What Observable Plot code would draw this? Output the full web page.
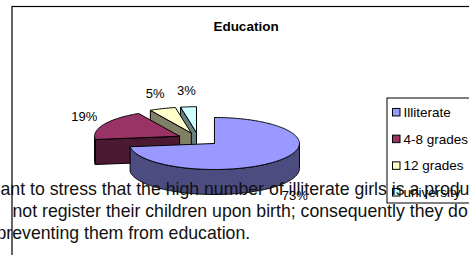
<!DOCTYPE html>
<html><head><meta charset="utf-8">
<script src="https://cdn.jsdelivr.net/npm/d3@7"></script>
<script src="https://cdn.jsdelivr.net/npm/@observablehq/plot@0.6"></script>
<style>
body{margin:0;background:#fff;}
#wrap{position:relative;width:469px;height:255px;overflow:hidden;background:#fff;}
#wrap svg{display:block;}
</style></head><body><div id="wrap"></div>
<script>
// ---- data ----
const title = "Education";
const categories = ["Illiterate", "4-8 grades", "12 grades", "university"];
const values = [73, 19, 5, 3];
const percentLabels = ["73%", "19%", "5%", "3%"];
const topColors = ["#9999FF", "#993366", "#FFFFCC", "#CCFFFF"];
const sideColors = ["#4C4C80", "#4C1933", "#808066", "#668080"];
const docLines = [
  "ant to stress that the high number of illiterate girls is a product",
  "not register their children upon birth; consequently they do",
  "preventing them from education."
];

// ---- layout ----
const W = 469, H = 255;
const G = {cx: 198, cy: 138.7, rx: 85, ry: 26, depth: 25, explode: 0.25, labelDx: 22, labelDy: 16};
const FONT = "Arial, 'Liberation Sans', sans-serif";

const arcs = d3.pie().sort(null).value(d => d)(values);
const slices = arcs.map((a, i) => {
  const mid = (a.startAngle + a.endAngle) / 2;
  const c = [G.cx + G.explode * Math.sin(mid) * G.rx, G.cy - G.explode * Math.cos(mid) * G.ry];
  const pt = (ang, h) => [c[0] + G.rx * Math.sin(ang), c[1] - G.ry * Math.cos(ang) + h];
  const arcPts = (a0, a1, h) => {
    const n = Math.max(2, Math.ceil(Math.abs(a1 - a0) / (Math.PI / 180)));
    return d3.range(n + 1).map(k => pt(a0 + (a1 - a0) * k / n, h));
  };
  const top = [c, ...arcPts(a.startAngle, a.endAngle, 0), c];
  const sides = [];
  // radial face at start angle
  if (Math.sin(a.startAngle) < -1e-6) {
    const p = pt(a.startAngle, 0), q = pt(a.startAngle, G.depth);
    sides.push([c, p, q, [c[0], c[1] + G.depth], c]);
  }
  // radial face at end angle
  if (Math.sin(a.endAngle) > 1e-6) {
    const p = pt(a.endAngle, 0), q = pt(a.endAngle, G.depth);
    sides.push([c, p, q, [c[0], c[1] + G.depth], c]);
  }
  // outer curved face (front half only)
  const lo = Math.max(a.startAngle, Math.PI / 2), hi = Math.min(a.endAngle, 3 * Math.PI / 2);
  if (hi > lo) {
    const upper = arcPts(lo, hi, 0), lower = arcPts(hi, lo, G.depth);
    sides.push([...upper, ...lower, upper[0]]);
  }
  const edge = pt(mid, Math.cos(mid) < 0 ? G.depth : 0);
  const label = {
    x: edge[0] + Math.sin(mid) * G.labelDx,
    y: edge[1] - Math.cos(mid) * G.labelDy,
    text: percentLabels[i]
  };
  return {i, c, top, sides, label};
});
const order = slices.slice().sort((a, b) => a.c[1] - b.c[1]);

const pieMarks = [];
for (const s of order) for (const poly of s.sides)
  pieMarks.push(Plot.line(poly, {x: d => d[0], y: d => d[1], fill: sideColors[s.i], stroke: "#000", strokeWidth: 1, strokeLinejoin: "round", curve: "linear"}));
for (const s of order)
  pieMarks.push(Plot.line(s.top, {x: d => d[0], y: d => d[1], fill: topColors[s.i], stroke: "#000", strokeWidth: 1, strokeLinejoin: "round", curve: "linear"}));

// legend
const LG = {x: 387, y: 98, w: 200, h: 105, sw: 392.5, swSize: 7.5, tx: 403, base0: 116.5, step: 26.7, fs: 13.5};
const legendRows = categories.map((c, i) => ({name: c, color: topColors[i], base: LG.base0 + i * LG.step}));

const DOC = {fs: 17.7, xs: [0, 12, -4], bases: [194, 216, 238]};

const plot = Plot.plot({
  width: W, height: H, margin: 0,
  x: {type: "identity", axis: null},
  y: {type: "identity", axis: null},
  color: {type: "identity"},
  style: {fontFamily: FONT, background: "transparent"},
  marks: [
    // chart area border
    Plot.rect([0], {x1: 12, y1: 6.5, x2: 700, y2: 500, fill: "none", stroke: "#000", strokeWidth: 1.2}),
    ...pieMarks,
    Plot.text(slices.map(s => s.label), {x: "x", y: "y", text: "text", fontSize: 13, fill: "#000", fontFamily: FONT}),
    // title
    Plot.text([title], {x: 245.5, y: 30.5 - 0.32 * 13.5, text: d => d, fontSize: 13.5, fontWeight: "bold", fill: "#000", fontFamily: FONT}),
    // legend
    Plot.rect([0], {x1: LG.x, y1: LG.y, x2: LG.x + LG.w, y2: LG.y + LG.h, fill: "#fff", stroke: "#000", strokeWidth: 1}),
    Plot.rect(legendRows, {x1: () => LG.sw, x2: () => LG.sw + LG.swSize, y1: d => d.base - 4.3 - LG.swSize / 2, y2: d => d.base - 4.3 + LG.swSize / 2, fill: "color", stroke: "#000", strokeWidth: 1}),
    Plot.text(legendRows, {x: () => LG.tx, y: d => d.base - 0.32 * LG.fs, text: "name", textAnchor: "start", fontSize: LG.fs, fill: "#000", fontFamily: FONT}),
    // overlapping document text
    Plot.text(docLines, {x: (d, i) => DOC.xs[i], y: (d, i) => DOC.bases[i] - 0.32 * DOC.fs, text: d => d, textAnchor: "start", fontSize: DOC.fs, fill: "#111", fontFamily: FONT})
  ]
});
document.getElementById("wrap").appendChild(plot);
</script></body></html>
